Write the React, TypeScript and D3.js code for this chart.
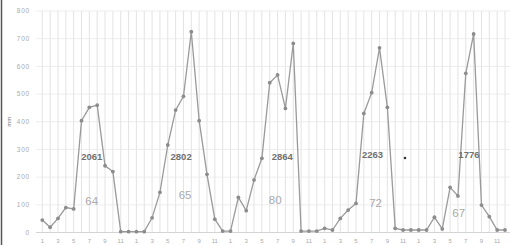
import * as d3 from "d3";

// monthly rainfall (mm), 5 years x 12 months
const rainfall = [
  45, 19, 51, 90, 85, 404, 452, 460, 241, 220, 3, 3,
  3, 3, 53, 145, 316, 442, 492, 725, 404, 210, 48, 5,
  5, 127, 79, 190, 268, 541, 569, 448, 683, 5, 5, 5,
  15, 9, 51, 81, 105, 430, 505, 667, 452, 15, 9, 9,
  9, 9, 55, 13, 163, 132, 575, 717, 99, 57, 9, 9,
];
const monthLabels = [1, 3, 5, 7, 9, 11];
const yTicks = [0, 100, 200, 300, 400, 500, 600, 700, 800];
const yearTotals = [2061, 2802, 2864, 2263, 1776];
const rainDays = [64, 65, 80, 72, 67];

// label placement (month index offset, value) for the annotations
const totalPos = [[6.3, 275], [17.7, 275], [30.6, 275], [42.1, 280], [54.4, 280]];
const daysPos = [[6.3, 113], [18.2, 135], [29.7, 117], [42.5, 106], [53.1, 70]];

const width = 510;
const height = 245;

const App = () => {
  const x = d3.scaleLinear().domain([0, rainfall.length - 1]).range([42.3, 505]);
  const y = d3.scaleLinear().domain([0, 800]).range([232.5, 11]);

  const line = d3
    .line<number>()
    .x((_, i) => x(i))
    .y((d) => y(d));

  return (
    <div style={{ position: "fixed", left: 0, top: 0 }}>
      <svg width={width} height={height} style={{ display: "block", background: "#fff" }}>
        {/* vertical grid, one per month */}
        {rainfall.map((_, i) => (
          <line key={"v" + i} x1={x(i)} x2={x(i)} y1={y(800)} y2={y(0)} stroke="#dcdcdc" strokeWidth={0.8} />
        ))}
        {/* horizontal grid */}
        {yTicks.map((t) => (
          <line key={"h" + t} x1={36} x2={width} y1={y(t)} y2={y(t)} stroke="#e8e8e8" strokeWidth={0.8} />
        ))}
        <line x1={36} x2={width} y1={y(0)} y2={y(0)} stroke="#d4d4d4" strokeWidth={1} />

        {/* y tick labels */}
        {yTicks.map((t) => (
          <text key={"yt" + t} x={30} y={y(t)} dy="0.35em" textAnchor="end" fontSize={6.5}
            letterSpacing={0.8} fill="#aaa" fontFamily="Liberation Sans, sans-serif">
            {t}
          </text>
        ))}
        <text transform={`translate(11,${y(400)}) rotate(-90)`} textAnchor="middle" fontSize={6}
          fill="#777" fontFamily="Liberation Sans, sans-serif">
          mm
        </text>
        <line x1={1.5} x2={1.5} y1={0} y2={height} stroke="#555" strokeWidth={1.5} />

        {/* x tick labels */}
        {rainfall.map((_, i) =>
          monthLabels.includes((i % 12) + 1) ? (
            <text key={"xt" + i} x={x(i)} y={243} textAnchor="middle" fontSize={6}
              fill="#aaa" fontFamily="Liberation Sans, sans-serif">
              {(i % 12) + 1}
            </text>
          ) : null
        )}

        {/* series */}
        <path d={line(rainfall) ?? ""} fill="none" stroke="#9a9a9a" strokeWidth={1.3} />
        {rainfall.map((d, i) => (
          <circle key={"p" + i} cx={x(i)} cy={y(d)} r={1.9} fill="#8c8c8c" />
        ))}

        {/* annotations */}
        {yearTotals.map((t, i) => (
          <text key={"tot" + i} x={x(totalPos[i][0])} y={y(totalPos[i][1])} dy="0.35em"
            textAnchor="middle" fontSize={9.5} fontWeight="bold" fill="#707070"
            fontFamily="Liberation Sans, sans-serif">
            {t}
          </text>
        ))}
        {rainDays.map((t, i) => (
          <text key={"days" + i} x={x(daysPos[i][0])} y={y(daysPos[i][1])} dy="0.35em"
            textAnchor="middle" fontSize={11.5} fill="#aaa"
            fontFamily="Liberation Sans, sans-serif">
            {t}
          </text>
        ))}
        <circle cx={405} cy={158} r={1.3} fill="#333" />
      </svg>
    </div>
  );
};

export default App;
